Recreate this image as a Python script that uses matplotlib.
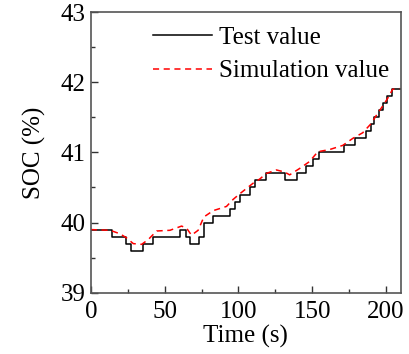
import numpy as np
import matplotlib.pyplot as plt
from matplotlib.ticker import MultipleLocator

# Test value (step data): change times and SOC levels
test_t = [0, 14.2, 23.9, 27.3, 35.1, 42.3, 60.4, 64.2, 67.1, 73.2, 76.6, 82.9,
          94.1, 97.5, 101.4, 108.1, 111.0, 118.9, 131.3, 139.9, 145.9, 150.5,
          154.3, 171.4, 179.3, 186.5, 189.9, 192.1, 195.5, 198.2, 200.5, 204.0, 210]
test_soc = [39.9, 39.8, 39.7, 39.6, 39.7, 39.8, 39.9, 39.8, 39.7, 39.8, 40.0, 40.1,
            40.2, 40.3, 40.4, 40.5, 40.6, 40.7, 40.6, 40.7, 40.8, 40.9,
            41.0, 41.1, 41.2, 41.3, 41.4, 41.5, 41.6, 41.7, 41.8, 41.9, 41.9]

# Simulation value
sim_t = [0, 13.1, 19.8, 24.3, 28.8, 34.5, 39.0, 44.6, 53.6, 61.5, 64.9, 68.2,
         72.7, 76.6, 82.9, 91.9, 96.4, 100.9, 109.9, 114.4, 118.9, 125.7, 131.3,
         134.7, 141.4, 148.2, 153.8, 161.7, 170.7, 177.5, 184.2, 189.9, 194.4,
         197.7, 201.1, 204.5, 209]
sim_soc = [39.9, 39.89, 39.84, 39.78, 39.70, 39.69, 39.76, 39.88, 39.89, 39.95, 39.92, 39.82,
           39.89, 40.08, 40.17, 40.23, 40.33, 40.41, 40.56, 40.62, 40.70, 40.75, 40.72,
           40.68, 40.77, 40.87, 41.01, 41.04, 41.10, 41.20, 41.28, 41.41, 41.56,
           41.66, 41.77, 41.90, 41.91]

plt.rcParams['font.family'] = ['Liberation Serif', 'DejaVu Serif']

fig = plt.figure(figsize=(4.09, 3.54), dpi=100)
ax = fig.add_axes([0.222, 0.173, 0.758, 0.793])

ax.step(test_t, test_soc, where='post', color='black', lw=1.1, label='Test value')
ax.plot(sim_t, sim_soc, color='red', ls=(0, (4, 3)), lw=1.1, label='Simulation value')

ax.set_xlim(0, 210)
ax.set_ylim(39, 43)
ax.xaxis.set_major_locator(MultipleLocator(50))
ax.xaxis.set_minor_locator(MultipleLocator(25))
ax.yaxis.set_major_locator(MultipleLocator(1))
ax.yaxis.set_minor_locator(MultipleLocator(0.5))
ax.tick_params(which='both', direction='in', top=False, right=False,
               labelsize=18, width=1.0, color='#333333')
ax.tick_params(which='major', length=5)
ax.tick_params(axis='x', which='major', pad=6)
ax.tick_params(axis='y', which='major', pad=4)
ax.tick_params(which='minor', length=3)
for s in ax.spines.values():
    s.set_color('#555555')
    s.set_linewidth(1.2)

ax.set_xlabel('Time (s)', fontsize=18, labelpad=1)
ax.set_ylabel('SOC (%)', fontsize=18, labelpad=10)

ax.legend(loc='upper left', bbox_to_anchor=(0.2, 0.95), frameon=False, fontsize=18,
          handlelength=2.35, handletextpad=0.3, labelspacing=0.45,
          borderaxespad=0, borderpad=0)

fig.savefig('out.png', dpi=100)
